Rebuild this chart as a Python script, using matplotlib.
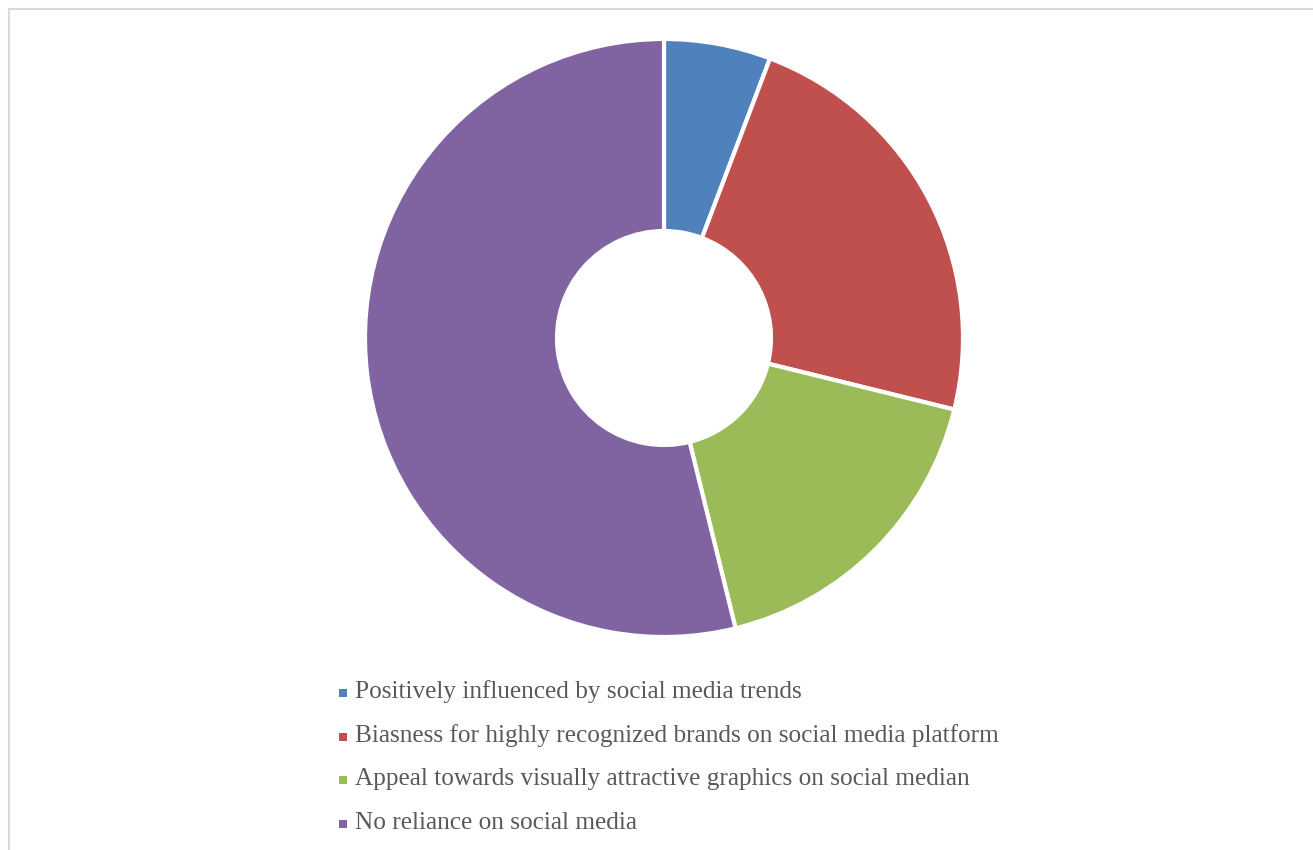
import matplotlib
matplotlib.use("Agg")
import matplotlib.pyplot as plt
from matplotlib.patches import Rectangle
from matplotlib.lines import Line2D

categories = [
    "Positively influenced by social media trends",
    "Biasness for highly recognized brands on social media platform",
    "Appeal towards visually attractive graphics on social median",
    "No reliance on social media",
]
values = [3, 12, 9, 28]
colors = ["#4F81BD", "#C0504D", "#9BBB59", "#8064A2"]

W, H = 1313, 850
fig = plt.figure(figsize=(W / 100, H / 100), dpi=100)
ax = fig.add_axes([0, 0, 1, 1])

# donut
ax.pie(values, colors=colors, startangle=90, counterclock=False,
       center=(664, H - 338), radius=299, frame=True,
       wedgeprops=dict(width=192, edgecolor="white", linewidth=3))
ax.set_xlim(0, W)
ax.set_ylim(0, H)
ax.set_aspect("equal")
ax.axis("off")

# chart-area border (top and left edges visible)
ax.add_line(Line2D([9, W], [H - 8.5, H - 8.5], color="#d9d9d9", lw=1.5))
ax.add_line(Line2D([9, 9], [0, H - 8.5], color="#d9d9d9", lw=1.5))

# legend
y0 = 692
dy = 43.7
for i, (lab, col) in enumerate(zip(categories, colors)):
    y = H - (y0 + i * dy)
    ax.add_patch(Rectangle((339, y - 5), 8, 8, color=col, lw=0))
    ax.text(355, y, lab, fontsize=18.2, family="Liberation Serif",
            color="#595959", va="center", ha="left")

fig.savefig("out.png", dpi=100)
